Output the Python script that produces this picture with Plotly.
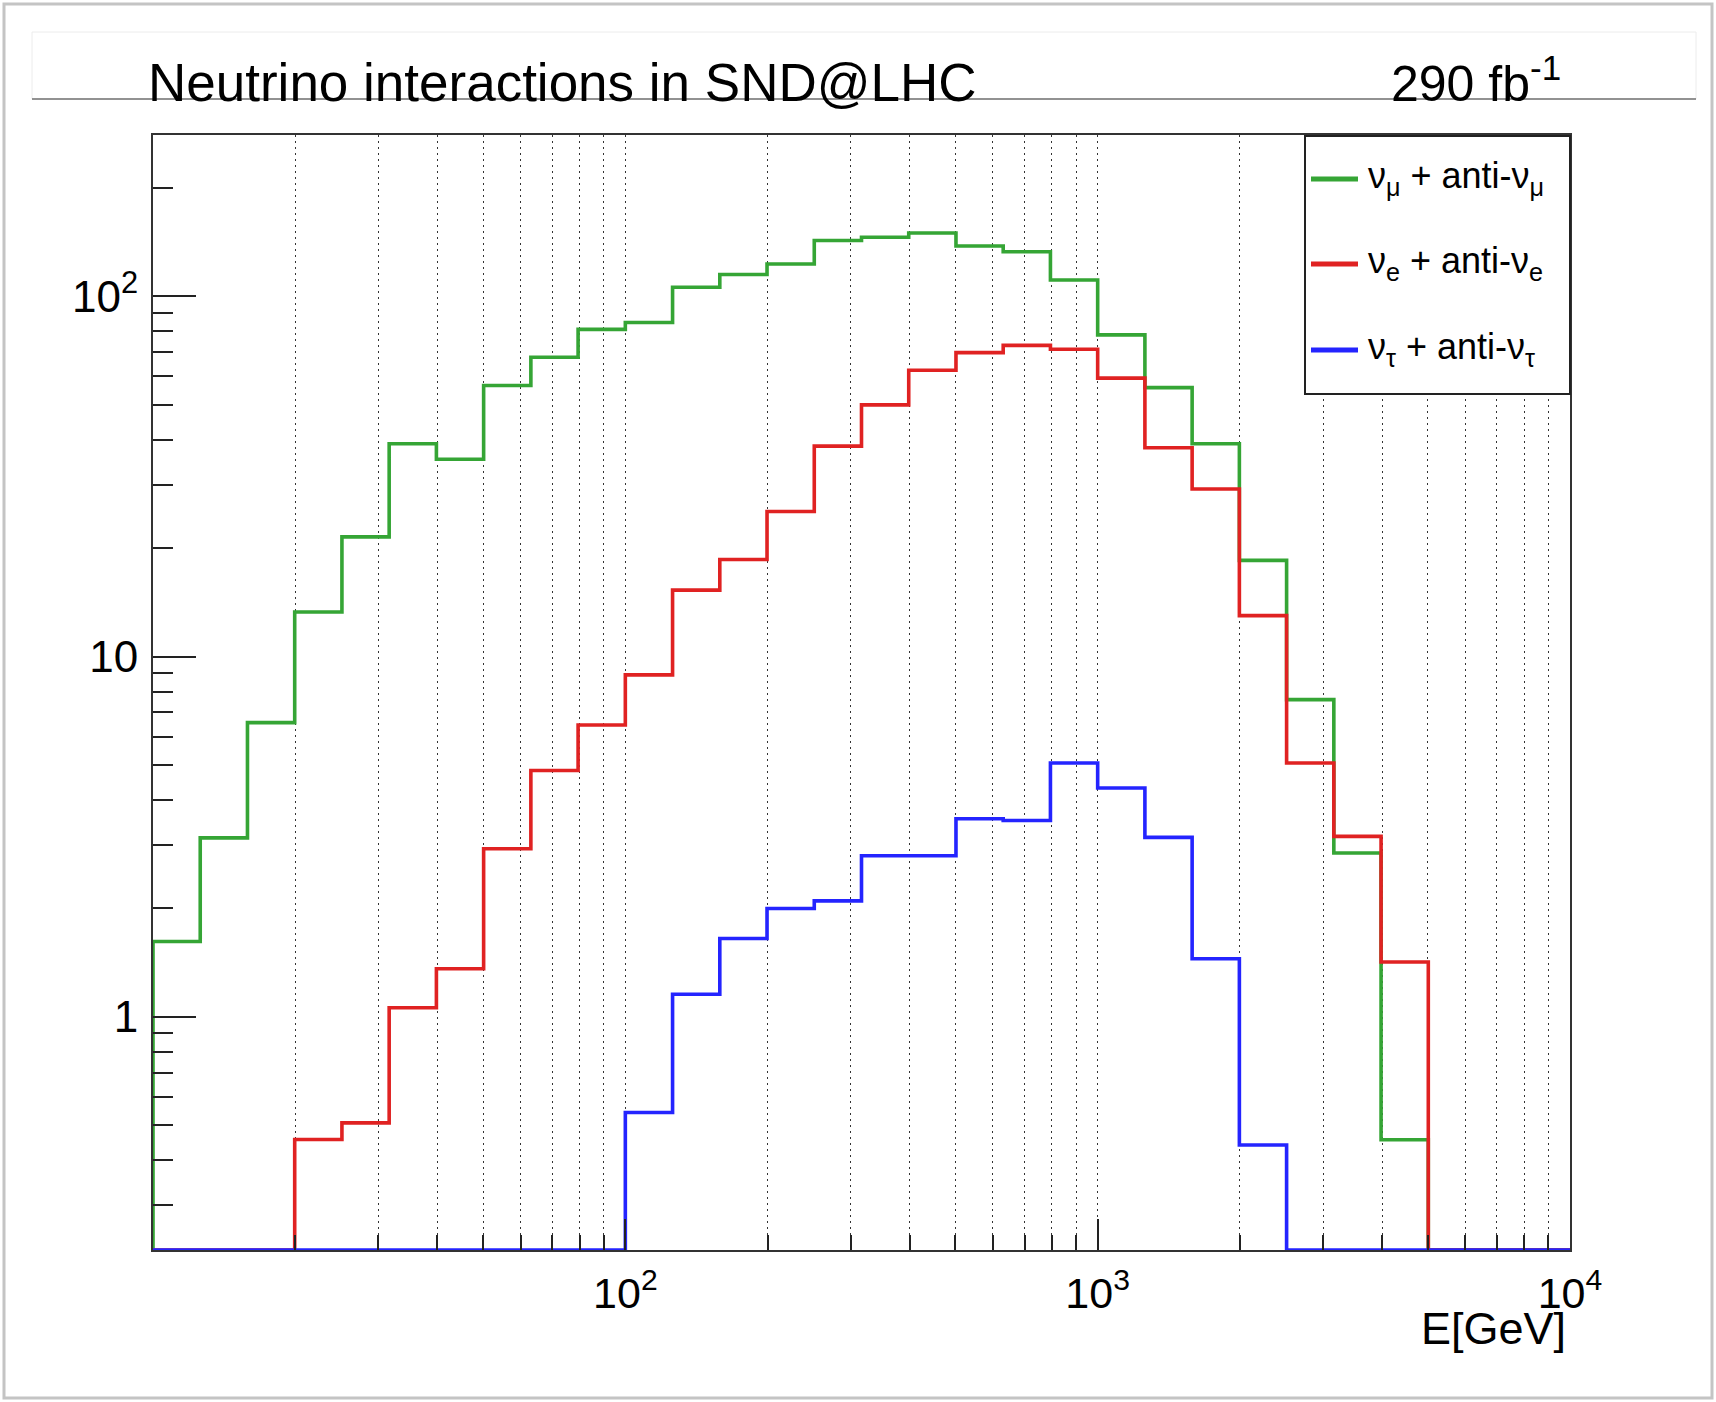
import numpy as np
import plotly.graph_objects as go

# ---------------- data ----------------
bin_edges = np.logspace(1, 4, 31)  # 30 log bins, 10 GeV .. 10 TeV

nu_mu = [1.62, 3.14, 6.56, 13.3, 21.5, 39.0, 35.3, 56.6, 67.8, 81.0,
         84.6, 106.0, 115.0, 123.0, 143.0, 146.0, 150.0, 138.0, 133.0, 111.0,
         78.2, 55.8, 39.0, 18.5, 7.6, 2.85, 0.456, 0.0, 0.0, 0.0]
nu_e = [0.0, 0.0, 0.0, 0.457, 0.508, 1.06, 1.36, 2.93, 4.83, 6.46,
        8.9, 15.3, 18.6, 25.3, 38.4, 50.0, 62.4, 69.8, 73.1, 71.3,
        59.3, 38.0, 29.2, 13.0, 5.07, 3.17, 1.42, 0.0, 0.0, 0.0]
nu_tau = [0.0, 0.0, 0.0, 0.0, 0.0, 0.0, 0.0, 0.0, 0.0, 0.0,
          0.543, 1.156, 1.65, 2.0, 2.10, 2.80, 2.80, 3.55, 3.51, 5.07,
          4.32, 3.15, 1.45, 0.441, 0.0, 0.0, 0.0, 0.0, 0.0, 0.0]

series_names = ["ν<sub>μ</sub> + anti-ν<sub>μ</sub>",
                "ν<sub>e</sub> + anti-ν<sub>e</sub>",
                "ν<sub>τ</sub> + anti-ν<sub>τ</sub>"]
series_values = [nu_mu, nu_e, nu_tau]
series_colors = ["#35a535", "#e02222", "#2424ff"]

x_tick_vals = [100, 1000, 10000]
x_tick_text = ["10<sup>2</sup>", "10<sup>3</sup>", "10<sup>4</sup>"]
x_minor_vals = [20, 30, 40, 50, 60, 70, 80, 90,
                200, 300, 400, 500, 600, 700, 800, 900,
                2000, 3000, 4000, 5000, 6000, 7000, 8000, 9000]
y_tick_vals = [1, 10, 100]
y_tick_text = ["1", "10", "10<sup>2</sup>"]
y_minor_vals = [0.3, 0.4, 0.5, 0.6, 0.7, 0.8, 0.9,
                2, 3, 4, 5, 6, 7, 8, 9,
                20, 30, 40, 50, 60, 70, 80, 90, 200]

title_text = "Neutrino interactions in SND@LHC"
lumi_text = "290 fb<sup>-1</sup>"
x_title = "E[GeV]"

# ---------------- layout geometry ----------------
W, H = 1716, 1402
L, R, T, B = 153, 1570, 135, 1250
Y_LOG_RANGE = [-0.647, 2.448]
FONT = "Liberation Sans, Arial, Helvetica, sans-serif"
GRID_DASH = "2px,4px"


def fx(px):
    return (px - L) / (R - L)


def fy(py):
    return (B - py) / (B - T)


floor = 10 ** Y_LOG_RANGE[0]

fig = go.Figure()
for name, vals, color in zip(series_names, series_values, series_colors):
    shown = [v if v > 0 else floor for v in vals]  # ROOT draws empty bins on the axis
    xs = [bin_edges[0]] + list(bin_edges[:-1]) + [bin_edges[-1], bin_edges[-1]]
    ys = [floor] + shown + [shown[-1], floor]
    fig.add_trace(go.Scatter(x=xs, y=ys, mode="lines", name=name,
                             line=dict(color=color, width=3.6, shape="hv"),
                             showlegend=False, hoverinfo="skip"))

axis_common = dict(type="log", showline=True, mirror=True, linecolor="#333333",
                   linewidth=2, ticks="inside", tickwidth=1.5, tickcolor="#222222",
                   zeroline=False, tickmode="array")

fig.update_xaxes(**axis_common, range=[1, 4], tickvals=x_tick_vals, ticktext=x_tick_text,
                 tickfont=dict(family=FONT, size=43, color="black"),
                 ticklen=31, showgrid=True, gridcolor="#333333", griddash=GRID_DASH, gridwidth=1,
                 ticklabelstandoff=4,
                 minor=dict(tickmode="array", tickvals=x_minor_vals, ticks="inside",
                            ticklen=15, tickwidth=1.5, tickcolor="#222222",
                            showgrid=True, gridcolor="#333333", griddash=GRID_DASH, gridwidth=1))
fig.update_yaxes(**axis_common, range=Y_LOG_RANGE, tickvals=y_tick_vals, ticktext=y_tick_text,
                 tickfont=dict(family=FONT, size=44, color="black"),
                 ticklen=43, showgrid=False, ticklabelstandoff=4,
                 minor=dict(tickmode="array", tickvals=y_minor_vals, ticks="inside",
                            ticklen=20, tickwidth=1.5, tickcolor="#222222", showgrid=False))

shapes = [
    # outer window frame
    dict(type="rect", xref="paper", yref="paper", x0=fx(4), x1=fx(1712), y0=fy(4), y1=fy(1398),
         line=dict(color="#c4c4c4", width=3), layer="below"),
    # title pave
    dict(type="rect", xref="paper", yref="paper", x0=fx(32), x1=fx(1696), y0=fy(32), y1=fy(99),
         line=dict(color="#ececec", width=1), layer="below"),
    dict(type="line", xref="paper", yref="paper", x0=fx(32), x1=fx(1696), y0=fy(99), y1=fy(99),
         line=dict(color="#707070", width=1.5), layer="below"),
    # legend box
    dict(type="rect", xref="paper", yref="paper", x0=fx(1305), x1=fx(1570), y0=fy(136), y1=fy(394),
         line=dict(color="#222222", width=2), fillcolor="white", layer="above"),
]
annotations = [
    dict(text=title_text, xref="paper", yref="paper", x=fx(146), y=fy(82),
         xanchor="left", yanchor="middle", showarrow=False,
         font=dict(family=FONT, size=53, color="black")),
    dict(text=lumi_text, xref="paper", yref="paper", x=fx(1563), y=fy(80),
         xanchor="right", yanchor="middle", showarrow=False,
         font=dict(family=FONT, size=50, color="black")),
    dict(text=x_title, xref="paper", yref="paper", x=fx(1568), y=fy(1328),
         xanchor="right", yanchor="middle", showarrow=False,
         font=dict(family=FONT, size=45, color="black")),
]
legend_rows = [179, 264, 350]
for name, color, yrow in zip(series_names, series_colors, legend_rows):
    shapes.append(dict(type="line", xref="paper", yref="paper", x0=fx(1311), x1=fx(1358),
                       y0=fy(yrow), y1=fy(yrow), line=dict(color=color, width=5), layer="above"))
    annotations.append(dict(text=name, xref="paper", yref="paper", x=fx(1366), y=fy(yrow - 1),
                            xanchor="left", yanchor="middle", showarrow=False,
                            font=dict(family=FONT, size=36, color="black")))

fig.update_layout(width=W, height=H, margin=dict(l=L, r=W - R, t=T, b=H - B, pad=0),
                  paper_bgcolor="white", plot_bgcolor="white", showlegend=False,
                  shapes=shapes, annotations=annotations,
                  font=dict(family=FONT, color="black"))

fig.write_html("out.html")
